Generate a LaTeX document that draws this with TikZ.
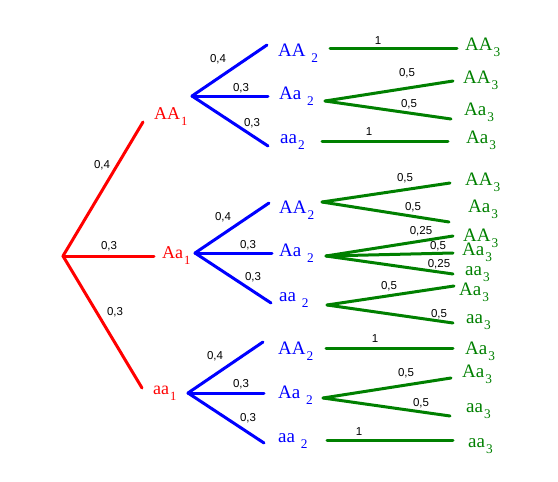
\documentclass[tikz,border=0pt]{standalone}
\usepackage{fontspec}
\setmainfont{Liberation Serif}
\newfontfamily\probfont{Liberation Sans}
\newcommand\idx[1]{\kern1pt\raisebox{-0.36em}{\fontsize{0.7em}{0.7em}\selectfont #1}}
\definecolor{gengreen}{RGB}{0,128,0}
\begin{document}
\begin{tikzpicture}[x=1pt, y=-1pt, line join=round, line cap=round,
  first/.style={draw=red, line width=3pt},
  second/.style={draw=blue, line width=3pt},
  third/.style={draw=gengreen, line width=3pt},
  prob/.style={inner sep=0pt, font=\probfont\fontsize{11.5}{12}\selectfont},
  gen1/.style={anchor=base west, inner sep=0pt, text=red, font=\fontsize{18}{18}\selectfont},
  gen2/.style={anchor=base west, inner sep=0pt, text=blue, font=\fontsize{19}{19}\selectfont},
  gen3/.style={anchor=base west, inner sep=0pt, text=gengreen, font=\fontsize{19}{19}\selectfont}]
\useasboundingbox (0,0) rectangle (558,482);
\path
(63,256) coordinate (R)
(143,122) coordinate (R1)
(154,256) coordinate (R2)
(142,388) coordinate (R3)
(192,96) coordinate (U)
(267,45) coordinate (U1) (268,96) coordinate (U2) (268,146) coordinate (U3)
(195,253) coordinate (V)
(269,203) coordinate (V1) (272,253) coordinate (V2) (271,303) coordinate (V3)
(188,393) coordinate (W)
(263,342) coordinate (W1) (264,393) coordinate (W2) (264,443) coordinate (W3);
\path
(330,48) coordinate (G1) (457,48) coordinate (G1a)
(325,101) coordinate (G2) (453,81) coordinate (G2a) (451,119) coordinate (G2b)
(322,141) coordinate (G3) (448,141) coordinate (G3a)
(322,202) coordinate (G4) (450,183) coordinate (G4a) (449,222) coordinate (G4b)
(326,256) coordinate (G5) (453,236) coordinate (G5a) (453,253) coordinate (G5b) (453,274) coordinate (G5c)
(327,305) coordinate (G6) (454,286) coordinate (G6a) (453,323) coordinate (G6b)
(326,348) coordinate (G7) (453,348) coordinate (G7a)
(323,398) coordinate (G8) (451,378) coordinate (G8a) (450,416) coordinate (G8b)
(327,440) coordinate (G9) (453,440) coordinate (G9a);
% branches
\foreach \i in {1,2,3} \draw[first] (R)--(R\i);
\foreach \v in {U,V,W} \foreach \i in {1,2,3} \draw[second] (\v)--(\v\i);
\foreach \i/\j in {G1/G1a, G2/G2a, G2/G2b, G3/G3a, G4/G4a, G4/G4b, G5/G5a, G5/G5b, G5/G5c, G6/G6a, G6/G6b, G7/G7a, G8/G8a, G8/G8b, G9/G9a} \draw[third] (\i)--(\j);
% probabilities
\foreach \n/\x/\y/\t in {r1/102/165/{0,4}, r2/109/246/{0,3}, r3/115/312/{0,3},
  u1/218/59/{0,4}, u2/241/88/{0,3}, u3/252/123/{0,3},
  v1/223/217/{0,4}, v2/248/245/{0,3}, v3/253/277/{0,3},
  w1/215/356/{0,4}, w2/241/384/{0,3}, w3/248/418/{0,3},
  g1/378/41/1, g2a/407/73/{0,5}, g2b/409/104/{0,5}, g3/369/132/1,
  g4a/405/178/{0,5}, g4b/413/207/{0,5},
  g5a/421/231/{0,25}, g5b/438/246/{0,5}, g5c/439/264/{0,25},
  g6a/389/286/{0,5}, g6b/439/314/{0,5},
  g7/375/339/1, g8a/406/373/{0,5}, g8b/421/403/{0,5}, g9/359/432/1}
  \node[prob] (p\n) at (\x,\y) {\t};
% genotypes
\node[gen1] (AA1) at (154,119) {AA\idx{1}};
\node[gen1] (Aa1) at (162,258) {Aa\idx{1}};
\node[gen1] (aa1) at (153,394) {aa\idx{1}};
\node[gen2] (AA2u) at (278,56) {AA \idx{2}};
\node[gen2] (Aa2u) at (279,99) {Aa \idx{2}};
\node[gen2] (aa2u) at (280,143) {aa\idx{2}};
\node[gen2] (AA2v) at (279,213) {AA\idx{2}};
\node[gen2] (Aa2v) at (279,256) {Aa \idx{2}};
\node[gen2] (aa2v) at (279,301) {aa \idx{2}};
\node[gen2] (AA2w) at (278,354) {AA\idx{2}};
\node[gen2] (Aa2w) at (278,398) {Aa \idx{2}};
\node[gen2] (aa2w) at (278,442) {aa \idx{2}};
\foreach \n/\x/\y/\t in {a/465/50/AA, b/463/83/AA, c/464/115/Aa, d/466/143/Aa,
  e/465/185/AA, f/468/212/Aa, g/463/241/AA, h/462/255/Aa, i/465/275/aa,
  j/459/295/Aa, k/466/323/aa, l/465/354/Aa, m/462/377/Aa, n/466/412/aa, o/468/447/aa}
  \node[gen3] (t\n) at (\x,\y) {\t\idx{3}};
\end{tikzpicture}
\end{document}
